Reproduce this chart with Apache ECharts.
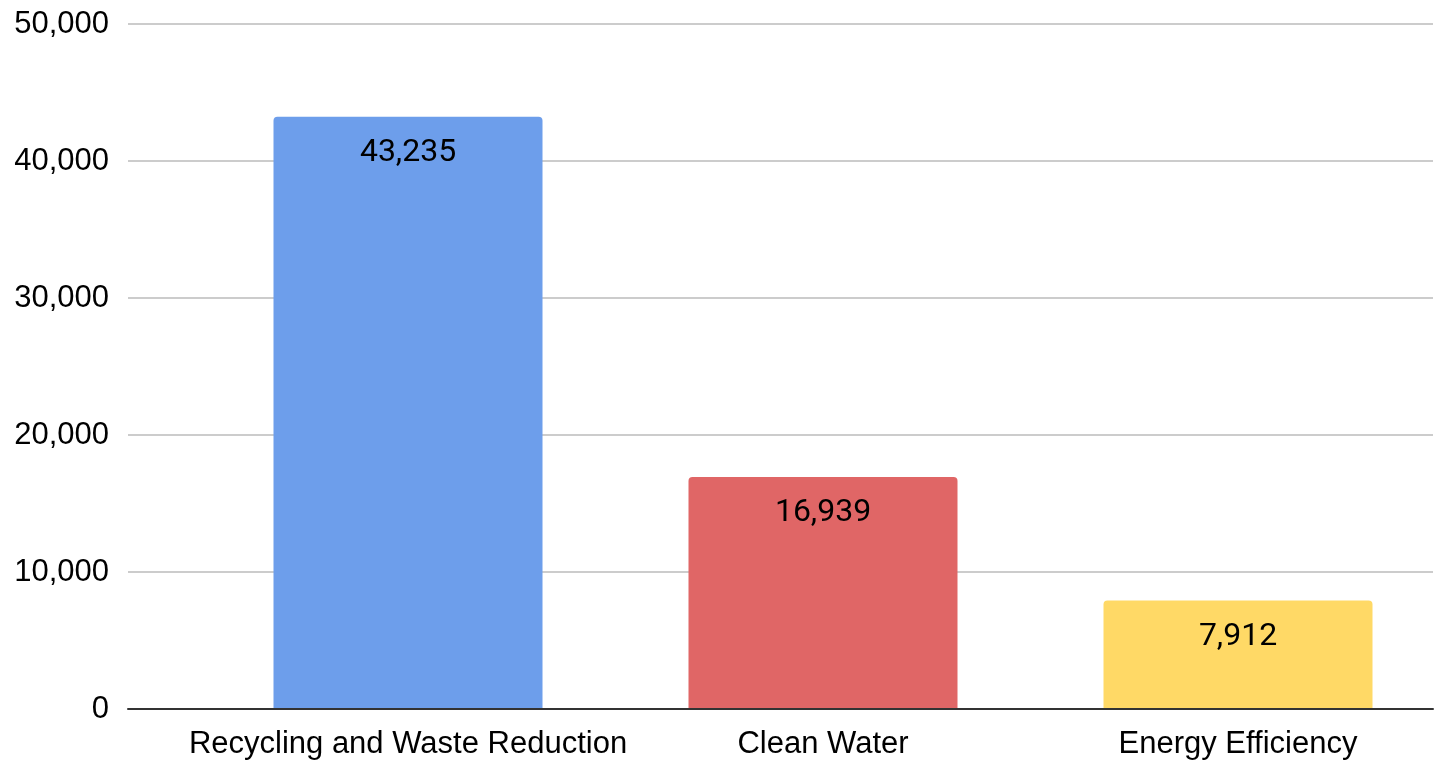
<!DOCTYPE html>
<html>
<head>
<meta charset="utf-8">
<script src="https://cdn.jsdelivr.net/npm/echarts@6/dist/echarts.min.js"></script>
<style>
  html, body { margin: 0; padding: 0; background: #fff; }
  #main { width: 1439px; height: 764px; }
</style>
</head>
<body>
<div id="main"></div>
<script>
var categories = ['Recycling and Waste Reduction', 'Clean Water', 'Energy Efficiency'];
var values = [43235, 16939, 7912];
var yTicks = [0, 10000, 20000, 30000, 40000, 50000];

var barColors = ['#6d9eeb', '#e06666', '#ffd966'];

function fmt(v) {
    return Number(v).toLocaleString('en-US');
}

var myChart = echarts.init(document.getElementById('main'));

var option = {
    animation: false,
    backgroundColor: '#fff',
    grid: [
        // gridlines + y labels + baseline
        { left: 128, right: 6, top: 24, bottom: 55 },
        // bars: first and last category sit on the grid edges
        { left: 408, width: 830, top: 24, bottom: 55 }
    ],
    xAxis: [
        {
            gridIndex: 0,
            type: 'category',
            data: [''],
            z: 5,
            axisLine: { show: true, lineStyle: { color: '#333', width: 2 } },
            axisTick: { show: false },
            axisLabel: { show: false }
        },
        {
            gridIndex: 1,
            type: 'category',
            data: categories,
            boundaryGap: false,
            axisLine: { show: false },
            axisTick: { show: false },
            axisLabel: {
                interval: 0,
                hideOverlap: false,
                margin: 20,
                fontFamily: 'Liberation Sans, Arial, sans-serif',
                fontSize: 31,
                color: '#000'
            }
        }
    ],
    yAxis: [
        {
            gridIndex: 0,
            type: 'value',
            min: yTicks[0],
            max: yTicks[yTicks.length - 1],
            interval: 10000,
            z: 0,
            axisLine: { show: false },
            axisTick: { show: false },
            axisLabel: {
                margin: 19,
                fontFamily: 'Liberation Sans, Arial, sans-serif',
                fontSize: 31,
                color: '#000',
                formatter: fmt
            },
            splitLine: { show: true, lineStyle: { color: '#cccccc', width: 2 } }
        },
        {
            gridIndex: 1,
            type: 'value',
            min: yTicks[0],
            max: yTicks[yTicks.length - 1],
            show: false
        }
    ],
    series: [
        {
            type: 'bar',
            xAxisIndex: 1,
            yAxisIndex: 1,
            barWidth: 269,
            clip: false,
            z: 2,
            data: values.map(function (v, i) {
                return { value: v, itemStyle: { color: barColors[i], borderRadius: [4, 4, 0, 0] } };
            }),
            label: {
                show: true,
                position: 'insideTop',
                distance: 20,
                fontFamily: 'Roboto, sans-serif',
                fontSize: 32,
                color: '#000',
                formatter: function (p) { return fmt(p.value); }
            }
        }
    ]
};

myChart.setOption(option);
</script>
</body>
</html>
